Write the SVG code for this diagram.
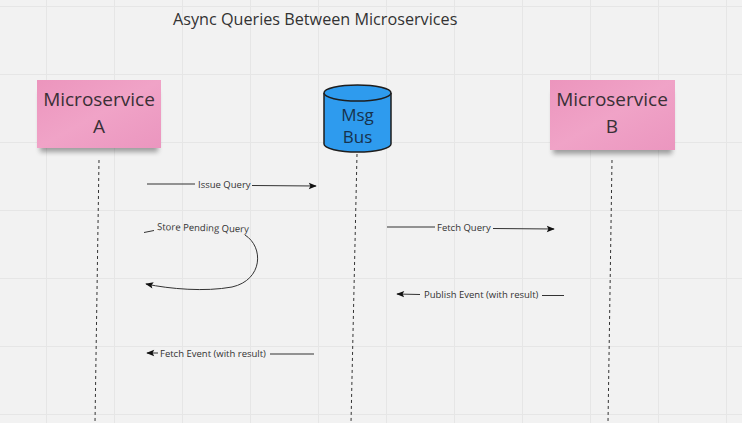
<svg xmlns="http://www.w3.org/2000/svg" width="742" height="423" viewBox="0 0 742 423">
<style>
.grid line{stroke:#e6e6e6;stroke-width:1}
.sticky{fill:url(#pink)}
.stxt{font-family:"Open Sans",sans-serif;font-size:19px;fill:#3a3036;text-anchor:middle}
.btxt{font-family:"Open Sans",sans-serif;font-size:17px;fill:#17324d;text-anchor:middle}
.lbl{font-family:"Open Sans",sans-serif;font-size:9.5px;fill:#333}
.life{stroke:#333;stroke-width:1;stroke-dasharray:3,3;fill:none}
.conn{stroke:#333;stroke-width:1;fill:none}
.title{font-family:"Open Sans",sans-serif;font-size:16.2px;fill:#333}
</style>
<defs>
<linearGradient id="pink" x1="0" y1="0" x2="1" y2="1">
<stop offset="0" stop-color="#ec95bd"/>
<stop offset="0.5" stop-color="#f0a3c7"/>
<stop offset="1" stop-color="#eb96bf"/>
</linearGradient>
<filter id="sh" x="-10%" y="-10%" width="120%" height="140%">
<feGaussianBlur stdDeviation="2.5"/>
</filter>
<marker id="ah" viewBox="0 0 10 10" refX="9" refY="5" markerWidth="11" markerHeight="8" markerUnits="userSpaceOnUse" orient="auto">
<path d="M0,1 L10,5 L0,9 L2,5 Z" fill="#111"/>
</marker>
</defs>
<rect width="742" height="423" fill="#f2f2f2"/>
<g class="grid">
<line x1="46.5" y1="0" x2="46.5" y2="423"/>
<line x1="114.5" y1="0" x2="114.5" y2="423"/>
<line x1="182.5" y1="0" x2="182.5" y2="423"/>
<line x1="250.5" y1="0" x2="250.5" y2="423"/>
<line x1="318.5" y1="0" x2="318.5" y2="423"/>
<line x1="386.5" y1="0" x2="386.5" y2="423"/>
<line x1="454.5" y1="0" x2="454.5" y2="423"/>
<line x1="522.5" y1="0" x2="522.5" y2="423"/>
<line x1="590.5" y1="0" x2="590.5" y2="423"/>
<line x1="658.5" y1="0" x2="658.5" y2="423"/>
<line x1="726.5" y1="0" x2="726.5" y2="423"/>
<line x1="0" y1="6.5" x2="742" y2="6.5"/>
<line x1="0" y1="74.5" x2="742" y2="74.5"/>
<line x1="0" y1="142.5" x2="742" y2="142.5"/>
<line x1="0" y1="210.5" x2="742" y2="210.5"/>
<line x1="0" y1="278.5" x2="742" y2="278.5"/>
<line x1="0" y1="346.5" x2="742" y2="346.5"/>
<line x1="0" y1="414.5" x2="742" y2="414.5"/>
</g>
<text class="title" x="173" y="25">Async Queries Between Microservices</text>
<g id="connectors">
<path class="life" d="M99,160 L95,423"/>
<path class="life" d="M357,154 L351,423"/>
<path class="life" d="M612,160 L608,423"/>
<path class="conn" d="M147,184 L195,184"/>
<path class="conn" d="M252,185.5 L316,186" marker-end="url(#ah)"/>
<text class="lbl" x="198" y="188">Issue Query</text>
<path class="conn" d="M387,227 L435,227"/>
<path class="conn" d="M493,228.5 L554,229" marker-end="url(#ah)"/>
<text class="lbl" x="437" y="231">Fetch Query</text>
<path class="conn" d="M144,232.5 L154,230.5"/>
<text class="lbl" x="157" y="230" transform="rotate(1.5 157 230)">Store Pending Query</text>
<path class="conn" d="M245,235 C264,247 263,280 232,287 C205,292 170,289 146,284" marker-end="url(#ah)"/>
<path class="conn" d="M420,294.5 L397,294" marker-end="url(#ah)"/>
<text class="lbl" x="424" y="298">Publish Event (with result)</text>
<path class="conn" d="M542,295.5 L564,295.5"/>
<path class="conn" d="M158,353 L147,353" marker-end="url(#ah)"/>
<text class="lbl" x="160" y="356.5">Fetch Event (with result)</text>
<path class="conn" d="M270,354 L314,354"/>
</g>
<g id="microservice-a">
<rect x="40" y="92" width="118" height="60" fill="#000" opacity="0.35" filter="url(#sh)"/>
<rect class="sticky" x="37" y="80" width="124" height="68"/>
<text class="stxt" x="99" y="106">Microservice</text>
<text class="stxt" x="99" y="133">A</text>
</g>
<g id="msg-bus">
<path d="M324,93 L324,144 A33.5,8 0 0 0 391,144 L391,93" fill="#2e9bee" stroke="#1e1e1e" stroke-width="1.5"/>
<ellipse cx="357.5" cy="93" rx="33.5" ry="8" fill="#2e9bee" stroke="#1e1e1e" stroke-width="1.5"/>
<text class="btxt" x="357.5" y="121">Msg</text>
<text class="btxt" x="357.5" y="143">Bus</text>
</g>
<g id="microservice-b">
<rect x="553" y="92" width="119" height="62" fill="#000" opacity="0.35" filter="url(#sh)"/>
<rect class="sticky" x="550" y="80" width="125" height="70"/>
<text class="stxt" x="612" y="106">Microservice</text>
<text class="stxt" x="612" y="133">B</text>
</g>
</svg>
